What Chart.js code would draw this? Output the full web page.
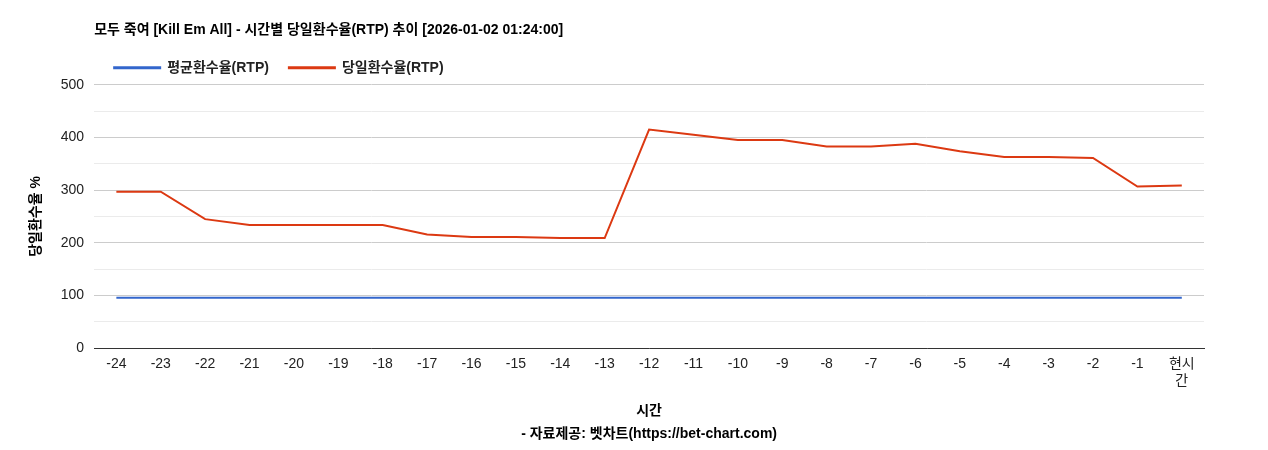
<!DOCTYPE html>
<html>
<head>
<meta charset="utf-8">
<script src="https://cdn.jsdelivr.net/npm/chart.js@4"></script>
<style>
  body { margin: 0; background: #fff; }
  #wrap { width: 1268px; height: 450px; }
</style>
</head>
<body>
<div id="wrap"><canvas id="rtpChart"></canvas></div>
<script>
const hourLabels = ['-24','-23','-22','-21','-20','-19','-18','-17','-16','-15','-14','-13','-12','-11','-10','-9','-8','-7','-6','-5','-4','-3','-2','-1',['현시','간']];
const avgRtp = [96,96,96,96,96,96,96,96,96,96,96,96,96,96,96,96,96,96,96,96,96,96,96,96,96];
const dailyRtp = [297,297,245,234,234,234,234,216,211,211,209,209,415,405,395,395,383,383,388,374,363,363,361,307,309];

Chart.defaults.font.family = 'Arial, "Liberation Sans", "Noto Sans CJK KR", sans-serif';
Chart.defaults.color = '#222';

// alinear título y leyenda con el borde izquierdo del área del gráfico
const alignHeader = {
    id: 'alignHeader',
    afterLayout(chart) {
        const dx = chart.chartArea.left - chart.titleBlock.left;
        chart.titleBlock.left += dx; chart.titleBlock.right += dx;
        chart.legend.left += dx; chart.legend.right += dx;
        chart.legend.adjustHitBoxes();
    }
};

new Chart(document.getElementById('rtpChart'), {
    type: 'line',
    data: {
        labels: hourLabels,
        datasets: [
            { label: '평균환수율(RTP)', data: avgRtp, borderColor: '#3366cc', backgroundColor: '#3366cc', borderWidth: 2, pointRadius: 0, tension: 0 },
            { label: '당일환수율(RTP)', data: dailyRtp, borderColor: '#dc3912', backgroundColor: '#dc3912', borderWidth: 2, pointRadius: 0, tension: 0 }
        ]
    },
    options: {
        responsive: true,
        maintainAspectRatio: false,
        animation: false,
        layout: { padding: { left: 28, right: 64, top: 18, bottom: 4 } },
        plugins: {
            title: {
                display: true, align: 'start',
                text: '모두 죽여 [Kill Em All] - 시간별 당일환수율(RTP) 추이 [2026-01-02 01:24:00]',
                font: { size: 14, weight: 'bold' }, color: '#000',
                padding: { top: 4, bottom: 2 }
            },
            legend: {
                align: 'start',
                labels: {
                    boxWidth: 46, boxHeight: 1, font: { size: 14, weight: 'bold' }, color: '#222', padding: 20
                }
            },
            tooltip: { enabled: false }
        },
        scales: {
            x: {
                offset: true,
                grid: { display: false },
                border: { color: '#333' },
                ticks: { font: { size: 14 }, color: '#222', maxRotation: 0, autoSkip: false, padding: 0 },
                title: {
                    display: true,
                    text: ['시간', '- 자료제공: 벳차트(https://bet-chart.com)'],
                    font: { size: 14, weight: 'bold', lineHeight: 1.65 }, color: '#000', padding: { top: 10, bottom: 0 }
                }
            },
            y: {
                min: 0, max: 500,
                border: { display: false },
                grid: { color: ctx => ctx.tick.value % 100 ? '#ebebeb' : '#cccccc', tickLength: 0 },
                ticks: {
                    stepSize: 50, font: { size: 14 }, color: '#222', padding: 10,
                    callback: v => v % 100 ? '' : v
                },
                title: {
                    display: true, text: '당일환수율 %',
                    font: { size: 14, weight: 'bold' }, color: '#000', padding: { top: 0, bottom: 6 }
                }
            }
        }
    },
    plugins: [alignHeader]
});
</script>
</body>
</html>
